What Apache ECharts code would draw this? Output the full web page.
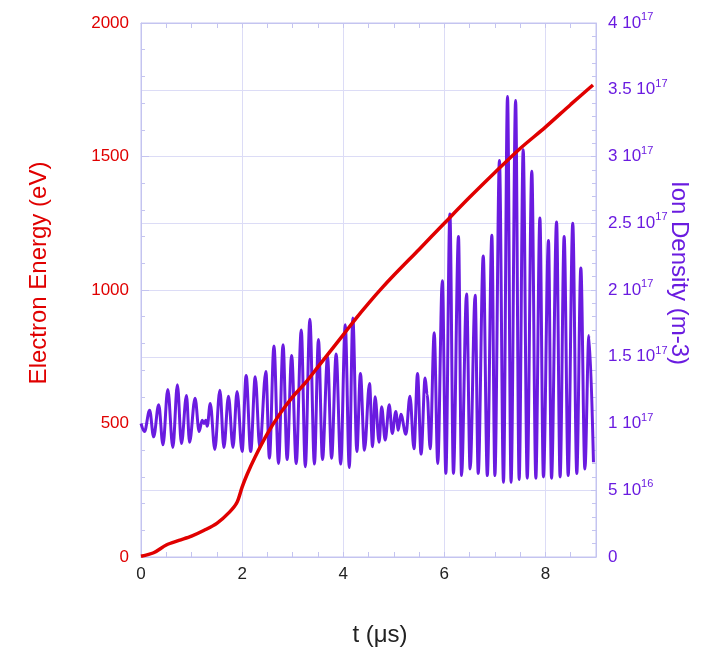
<!DOCTYPE html>
<html>
<head>
<meta charset="utf-8">
<script src="https://cdn.jsdelivr.net/npm/echarts@6/dist/echarts.min.js"></script>
<style>
html,body{margin:0;padding:0;background:#fff;}
#chart{width:711px;height:651px;}
</style>
</head>
<body>
<div id="chart"></div>
<script>
// Electron energy (eV) vs time (µs)
const energyT = [0, 0.25, 0.5, 0.75, 1.0, 1.25, 1.5, 1.75, 1.9, 2.0, 2.1, 2.25, 2.5, 2.75, 3.0, 3.25, 3.5, 3.75, 4.0, 4.25, 4.5, 4.75, 5.0, 5.5, 6.0, 6.5, 7.0, 7.5, 8.0, 8.5, 8.94];
const energyE = [3, 16, 45, 62, 78, 100, 126, 168, 205, 262, 310, 372, 462, 537, 600, 652, 712, 772, 832, 893, 950, 1004, 1055, 1152, 1250, 1347, 1440, 1530, 1610, 1695, 1768];

// Ion density (units of 1e16 m^-3) vs time (µs)
const densT = [0, 0.07, 0.17, 0.25, 0.35, 0.435, 0.53, 0.63, 0.72, 0.80, 0.90, 0.96, 1.07, 1.15, 1.21, 1.25, 1.28, 1.31, 1.37, 1.46, 1.56, 1.64, 1.73, 1.82, 1.90, 2.00, 2.08, 2.17, 2.26, 2.35, 2.47, 2.54, 2.63, 2.72, 2.81, 2.89, 2.98, 3.07, 3.17, 3.25, 3.34, 3.43, 3.51, 3.59, 3.69, 3.77, 3.86, 3.95, 4.04, 4.12, 4.19, 4.27, 4.34, 4.42, 4.52, 4.58, 4.63, 4.71, 4.76, 4.83, 4.91, 4.97, 5.04, 5.09, 5.14, 5.24, 5.32, 5.40, 5.47, 5.54, 5.62, 5.66, 5.72, 5.80, 5.87, 5.96, 6.03, 6.11, 6.18, 6.28, 6.34, 6.44, 6.51, 6.61, 6.67, 6.77, 6.85, 6.94, 7.00, 7.09, 7.17, 7.25, 7.32, 7.41, 7.48, 7.56, 7.64, 7.73, 7.81, 7.89, 7.96, 8.06, 8.12, 8.22, 8.29, 8.37, 8.45, 8.54, 8.62, 8.70, 8.78, 8.86, 8.95];
const densN = [10.0, 9.4, 11.0, 9.0, 11.4, 8.4, 12.55, 8.2, 12.9, 8.5, 12.1, 8.6, 11.9, 9.4, 10.25, 10.0, 10.25, 9.8, 11.5, 8.06, 12.5, 8.2, 12.05, 8.2, 12.4, 7.9, 13.6, 7.9, 13.5, 8.2, 13.9, 7.4, 15.8, 7.0, 15.9, 7.3, 15.1, 7.0, 17.0, 6.76, 17.8, 6.96, 16.3, 7.3, 15.0, 7.4, 15.2, 6.96, 17.4, 6.7, 17.9, 7.9, 13.75, 8.0, 13.0, 8.26, 12.0, 8.6, 11.25, 8.76, 11.4, 9.26, 10.9, 9.5, 10.7, 9.2, 12.05, 8.1, 13.75, 7.7, 13.4, 12.2, 8.1, 16.8, 7.0, 20.7, 6.26, 25.7, 6.26, 24.0, 6.1, 19.7, 6.6, 19.6, 6.26, 22.55, 6.1, 24.1, 6.1, 29.7, 5.6, 34.5, 5.6, 34.2, 5.8, 30.5, 5.9, 28.9, 5.9, 25.4, 6.0, 23.7, 5.9, 25.1, 6.0, 24.0, 6.1, 25.0, 6.26, 21.65, 6.6, 16.6, 7.1];

// Axis settings
const xMin = 0, xMax = 9;
const energyMin = 0, energyMax = 2000, energyStep = 500;
const densMin = 0, densMax = 40, densStep = 5;

const RED = '#e00000';
const PURPLE = '#6a1be0';
const FRAME = '#c4c4f0';
const GRID = '#dcdcf6';
const FONT = '"Liberation Sans", Arial, Helvetica, sans-serif';

function densLabel(v) {
  if (v === 0) return '0';
  if (v < 10) return v + ' 10{s|16}';
  return (Math.round(v) / 10) + ' 10{s|17}';
}

const chart = echarts.init(document.getElementById('chart'), null, {renderer: 'canvas'});
chart.setOption({
  animation: false,
  backgroundColor: '#ffffff',
  grid: {left: 141, right: 115, top: 23, bottom: 94, show: true, borderColor: FRAME, borderWidth: 1, backgroundColor: 'transparent'},
  xAxis: [
    {
      type: 'value', position: 'bottom', min: xMin, max: xMax, interval: 1,
      axisLine: {show: true, onZero: false, lineStyle: {color: FRAME}},
      axisTick: {show: true, inside: true, length: 5, lineStyle: {color: FRAME}},
      minorTick: {show: true, splitNumber: 2, length: 5, lineStyle: {color: FRAME}},
      splitLine: {show: false},
      axisLabel: {show: true, margin: 9, color: '#222', fontSize: 17, fontFamily: FONT,
        formatter: function (v) { return (v % 2 === 0) ? String(v) : ''; }}
    },
    {
      type: 'value', position: 'top', min: xMin, max: xMax, interval: 1,
      axisLine: {show: true, onZero: false, lineStyle: {color: FRAME}},
      axisTick: {show: true, inside: true, length: 5, lineStyle: {color: FRAME}},
      minorTick: {show: true, splitNumber: 2, length: 5, lineStyle: {color: FRAME}},
      splitLine: {show: false},
      axisLabel: {show: false}
    },
    {
      type: 'value', position: 'bottom', min: xMin, max: xMax, interval: 2,
      axisLine: {show: false, onZero: false}, axisTick: {show: false}, axisLabel: {show: false},
      splitLine: {show: true, lineStyle: {color: GRID, width: 1}}
    }
  ],
  yAxis: [
    {
      type: 'value', position: 'left', min: energyMin, max: energyMax, interval: energyStep,
      axisLine: {show: true, onZero: false, lineStyle: {color: FRAME}},
      axisTick: {show: true, inside: true, length: 8, lineStyle: {color: FRAME}},
      minorTick: {show: true, splitNumber: 5, length: 4, lineStyle: {color: FRAME}},
      splitLine: {show: false},
      axisLabel: {margin: 12, color: RED, fontSize: 17, fontFamily: FONT,
        formatter: function (v) { return String(v); }}
    },
    {
      type: 'value', position: 'right', min: densMin, max: densMax, interval: densStep,
      axisLine: {show: true, onZero: false, lineStyle: {color: FRAME}},
      axisTick: {show: true, inside: true, length: 5, lineStyle: {color: FRAME}},
      minorTick: {show: true, splitNumber: 5, length: 4, lineStyle: {color: FRAME}},
      splitLine: {show: true, lineStyle: {color: GRID, width: 1}},
      axisLabel: {margin: 12, color: PURPLE, fontSize: 17, fontFamily: FONT,
        formatter: densLabel,
        rich: {s: {fontSize: 11, color: PURPLE, fontFamily: FONT, padding: [0, 0, 12, 0]}}}
    }
  ],
  graphic: [
    {type: 'text', x: 39, y: 273, rotation: Math.PI / 2,
      style: {text: 'Electron Energy (eV)', fill: RED, font: '24px ' + FONT, textAlign: 'center', textVerticalAlign: 'middle'}},
    {type: 'text', x: 679, y: 273, rotation: -Math.PI / 2,
      style: {text: 'Ion Density (m-3)', fill: PURPLE, font: '24px ' + FONT, textAlign: 'center', textVerticalAlign: 'middle'}},
    {type: 'text', x: 380, y: 635,
      style: {text: 't (\u03bcs)', fill: '#222', font: '24px ' + FONT, textAlign: 'center', textVerticalAlign: 'middle'}}
  ],
  series: [
    {
      name: 'Ion Density', type: 'line', xAxisIndex: 0, yAxisIndex: 1,
      data: densT.map((t, i) => [t, densN[i]]),
      showSymbol: false, symbol: 'none', smooth: 0.35, smoothMonotone: 'x',
      lineStyle: {color: PURPLE, width: 3}, z: 2
    },
    {
      name: 'Electron Energy', type: 'line', xAxisIndex: 0, yAxisIndex: 0,
      data: energyT.map((t, i) => [t, energyE[i]]),
      showSymbol: false, symbol: 'none', smooth: 0.3,
      lineStyle: {color: RED, width: 3.5}, z: 3
    }
  ]
});
</script>
</body>
</html>
